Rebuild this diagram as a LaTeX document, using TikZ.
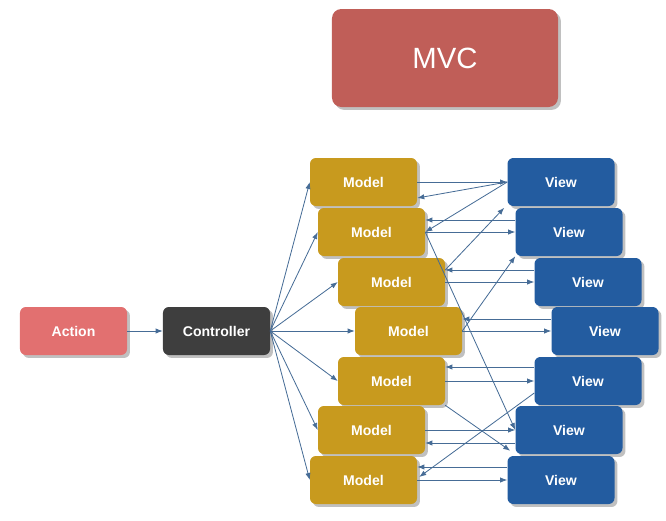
\documentclass[tikz,border=0pt]{standalone}
\usepackage{fontspec}
\setmainfont{Liberation Sans}
\usepackage{tikz}
\usetikzlibrary{arrows,arrows.meta,shapes,positioning,shadows,calc}
\usepackage{xcolor}
\definecolor{mvcred}{RGB}{192,94,88}
\definecolor{mvcgold}{RGB}{200,154,30}
\definecolor{mvcblue}{RGB}{35,92,160}
\definecolor{mvcpink}{RGB}{226,112,112}
\definecolor{mvcgray}{RGB}{62,62,62}
\definecolor{mvcline}{RGB}{70,108,150}
\tikzstyle{box} = [rectangle, rounded corners=5pt, minimum width=3.21cm, minimum height=1.44cm, text=white, font=\fontsize{12}{14}\selectfont\bfseries, drop shadow={shadow xshift=2.5pt, shadow yshift=-2.5pt, fill=black!45, opacity=0.55}]
\tikzstyle{model} = [box, fill=mvcgold]
\tikzstyle{view} = [box, fill=mvcblue]
\tikzstyle{arrow} = [->, >={Latex[length=6pt,width=4.5pt]}, color=mvcline, line width=0.7pt]

\begin{document}
\begin{tikzpicture}[x=0.03cm, y=-0.03cm]
\useasboundingbox (0,0) rectangle (666,520);
% Title
\node[box, fill=mvcred, minimum width=6.78cm, minimum height=2.94cm, rounded corners=8pt, font=\fontsize{25}{30}\selectfont] (title) at (445,58) {MVC};

% Action and controller
\node[box, fill=mvcpink] (action) at (73.5,331) {Action};
\node[box, fill=mvcgray] (controller) at (216.5,331) {Controller};

% Models
\node[model] (m1) at (363.5,182) {Model};
\node[model] (m2) at (371.5,232) {Model};
\node[model] (m3) at (391.5,282) {Model};
\node[model] (m4) at (408.5,331) {Model};
\node[model] (m5) at (391.5,381) {Model};
\node[model] (m6) at (371.5,430) {Model};
\node[model] (m7) at (363.5,480) {Model};

% Views
\node[view] (v1) at (561,182) {View};
\node[view] (v2) at (569,232) {View};
\node[view] (v3) at (588,282) {View};
\node[view] (v4) at (605,331) {View};
\node[view] (v5) at (588,381) {View};
\node[view] (v6) at (569,430) {View};
\node[view] (v7) at (561,480) {View};

% Arrows
\draw[arrow] (action) -- (controller);
\draw[arrow] (controller.east) -- (m1.west);
\draw[arrow] (controller.east) -- (m2.west);
\draw[arrow] (controller.east) -- (m3.west);
\draw[arrow] (controller.east) -- (m4.west);
\draw[arrow] (controller.east) -- (m5.west);
\draw[arrow] (controller.east) -- (m6.west);
\draw[arrow] (controller.east) -- (m7.west);

% Models and views
\draw[arrow] (m1.east) -- (v1.west);
\draw[arrow] (v1.west) -- ($(m1.east)+(0,16)$);
\draw[arrow] (v1.west) -- (m2.east);
\draw[arrow] ($(v2.west)+(0,-12)$) -- ($(m2.east)+(0,-12)$);
\draw[arrow] (m2.east) -- (v2.west);
\draw[arrow] (m2.east) -- (v6.west);
\draw[arrow] ($(m3.east)+(0,-12)$) -- ($(v2.north west)+(-11,0)$);
\draw[arrow] ($(v3.west)+(0,-12)$) -- ($(m3.east)+(0,-12)$);
\draw[arrow] (m3.east) -- (v3.west);
\draw[arrow] (m4.east) -- (v2.south west);
\draw[arrow] ($(v4.west)+(0,-12)$) -- ($(m4.east)+(0,-12)$);
\draw[arrow] (m4.east) -- (v4.west);
\draw[arrow] ($(v5.west)+(0,-14)$) -- ($(m5.east)+(0,-14)$);
\draw[arrow] (m5.east) -- (v5.west);
\draw[arrow] (m5.south east) -- ($(v7.north west)+(3,-5)$);
\draw[arrow] ($(v5.west)+(0,12)$) -- ($(m7.east)+(2,-3)$);
\draw[arrow] (m6.east) -- (v6.west);
\draw[arrow] ($(v6.west)+(0,13)$) -- ($(m6.east)+(0,13)$);
\draw[arrow] ($(v7.west)+(0,-13)$) -- ($(m7.east)+(0,-13)$);
\draw[arrow] (m7.east) -- (v7.west);
\end{tikzpicture}
\end{document}
